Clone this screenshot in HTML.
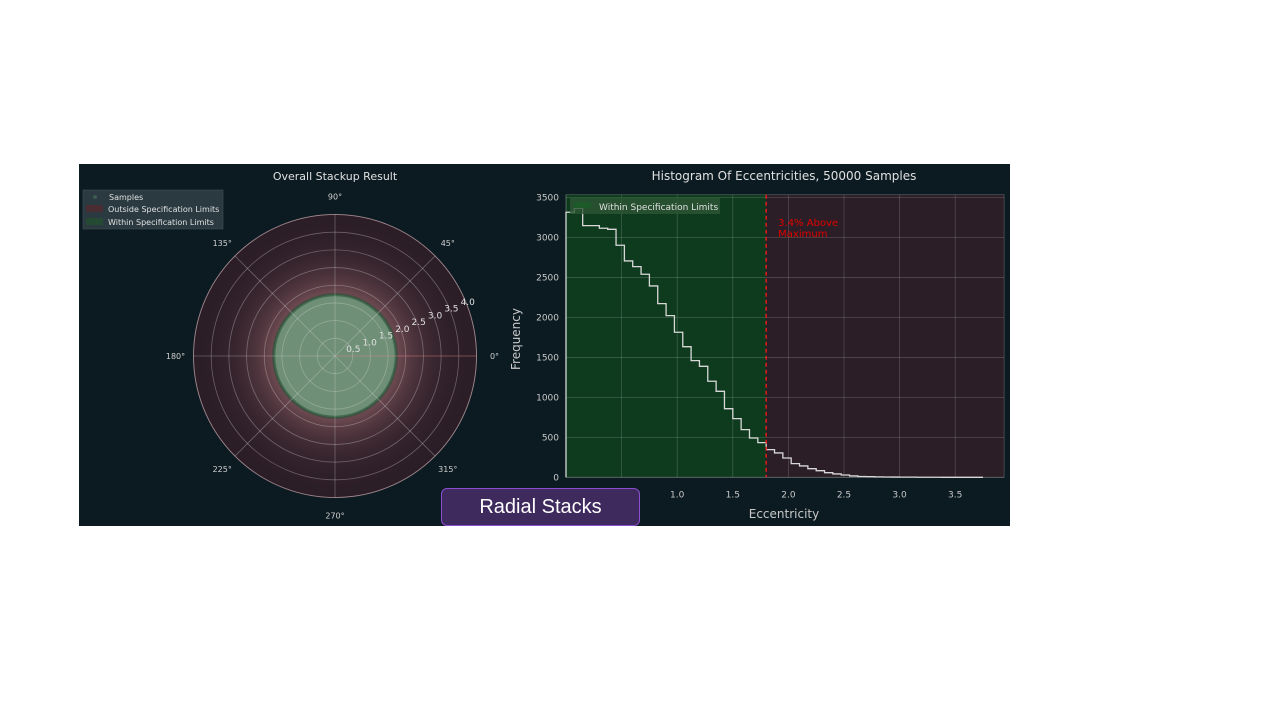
<!DOCTYPE html>
<html><head><meta charset="utf-8">
<style>
html,body{margin:0;padding:0;background:#fff;width:1280px;height:720px;overflow:hidden;font-family:"Liberation Sans","DejaVu Sans",sans-serif}
#fig{position:absolute;left:79px;top:164px;width:931px;height:362px;background:#0c1b22}
#badge{position:absolute;left:441px;top:488px;width:197px;height:36px;background:#3f2a5e;border:1px solid #8a4fd0;border-radius:6px;color:#fff;font-size:20px;line-height:36px;text-align:center}
</style></head><body>
<div id="fig">
<svg id="svg" width="931" height="362" xmlns="http://www.w3.org/2000/svg" font-family="DejaVu Sans, Liberation Sans, sans-serif"></svg>
</div>
<div id="badge">Radial Stacks</div>
<script>
// Histogram data
const binStart = 0, binWidth = 0.075;
const counts = [3317,3367,3150,3150,3117,3104,2904,2708,2637,2541,2395,2174,2023,1815,1635,1460,1389,1202,1076,859,734,597,492,434,346,305,242,171,142,108,83,58,42,29,17,10,8,5,4,3,2,2,1,1,1,0,0,0,0,0];
const xTicks = [0.0,0.5,1.0,1.5,2.0,2.5,3.0,3.5];
const yTicks = [0,500,1000,1500,2000,2500,3000,3500];
const specLimit = 1.8;
// Polar data
const rTicks = [0.5,1.0,1.5,2.0,2.5,3.0,3.5,4.0];
const angleTicks = [0,45,90,135,180,225,270,315];
const polarSpec = 1.73, polarMax = 4.0;

const svg = document.getElementById('svg');
const NS = 'http://www.w3.org/2000/svg';
function mk(tag, attrs, parent){const e=document.createElementNS(NS,tag);for(const k in attrs)e.setAttribute(k,attrs[k]);(parent||svg).appendChild(e);return e;}
function txt(s, attrs, parent){const e=mk('text',attrs,parent);e.textContent=s;return e;}

// ---------- Polar ----------
const cx=256, cy=192, R=141.5;
const rs = r => r/polarMax*R;
const pg = mk('g',{});


txt('Overall Stackup Result',{x:256,y:16,fill:'#e0e0e0','font-size':11,'text-anchor':'middle'},pg);
const outer = mk('circle',{cx,cy,r:R,fill:'#2b1d26',stroke:'#7a5a62','stroke-width':1},pg);


const defs = mk('defs',{},pg);
const rg = mk('radialGradient',{id:'cloud',cx:'50%',cy:'50%',r:'50%'},defs);
[[0,'rgba(160,110,115,0)'],[0.38,'rgba(160,110,115,0)'],[0.45,'rgba(170,115,120,0.5)'],[0.55,'rgba(150,100,108,0.35)'],[0.7,'rgba(120,80,90,0.18)'],[0.85,'rgba(100,70,80,0.05)'],[1,'rgba(100,70,80,0)']].forEach(s=>mk('stop',{offset:s[0],'stop-color':s[1]},rg));
const cloud = mk('circle',{cx,cy,r:R,fill:'url(#cloud)'},pg);


const green = mk('circle',{cx,cy,r:rs(polarSpec),fill:'#6f8f77',stroke:'#2f5a3e','stroke-width':3,'stroke-opacity':0.7},pg);


rTicks.forEach(r=>{
  const c=mk('circle',{cx,cy,r:rs(r),fill:'none',stroke:'rgba(220,220,220,0.35)','stroke-width':0.8},pg);
  
  
  const a=22.5*Math.PI/180;
  const t=txt(r.toFixed(1),{x:cx+rs(r)*Math.cos(a)+2,y:cy-rs(r)*Math.sin(a)+3,fill:'#e0e0e0','font-size':9,'text-anchor':'middle'},pg);
  
  
});
angleTicks.forEach(d=>{
  const a=d*Math.PI/180;
  const l=mk('line',{x1:cx,y1:cy,x2:cx+R*Math.cos(a),y2:cy-R*Math.sin(a),stroke:d===0?'rgba(220,130,130,0.6)':'rgba(220,220,220,0.35)','stroke-width':0.8},pg);
  
  
  const t=txt(d+'°',{x:cx+(R+18)*Math.cos(a),y:cy-(R+18)*Math.sin(a)+3,fill:'#d0d0d0','font-size':8,'text-anchor':'middle'},pg);
  
  
});
// legend
const lg = mk('g',{},pg);


mk('rect',{x:4,y:26,width:140,height:39,fill:'#2a3a40',stroke:'#3e4e54','stroke-width':0.6},lg);
mk('circle',{cx:16,cy:33,r:2,fill:'#3c5a50'},lg);
mk('rect',{x:7,y:41,width:17,height:7,fill:'#4a2c33'},lg);
mk('rect',{x:7,y:54,width:17,height:7,fill:'#244a34'},lg);
txt('Samples',{x:30,y:36,fill:'#e0e0e0','font-size':8},lg);
txt('Outside Specification Limits',{x:29,y:48,fill:'#e0e0e0','font-size':8},lg);
txt('Within Specification Limits',{x:29,y:61,fill:'#e0e0e0','font-size':8},lg);

// ---------- Histogram ----------
const X0=487, xPerU=111.2, Y0=313.3, yPerU=0.0799;
const xs = v => X0 + v*xPerU;
const ys = v => Y0 - v*yPerU;
const hg = mk('g',{});


const axL=xs(0), axR=xs(3.94), axT=ys(3537), axB=ys(0);
txt('Histogram Of Eccentricities, 50000 Samples',{x:705,y:16,fill:'#e0e0e0','font-size':12,'text-anchor':'middle'},hg);
const gr=mk('rect',{x:axL,y:axT,width:xs(specLimit)-axL,height:axB-axT,fill:'#0e3b1e'},hg);


const rr=mk('rect',{x:xs(specLimit),y:axT,width:axR-xs(specLimit),height:axB-axT,fill:'#2b1e26'},hg);


xTicks.forEach(v=>{
  const l=mk('line',{x1:xs(v),y1:axT,x2:xs(v),y2:axB,stroke:'rgba(200,200,200,0.25)','stroke-width':0.8},hg);
  
  
  const t=txt(v.toFixed(1),{x:xs(v),y:axB+20,fill:'#c8c8c8','font-size':9,'text-anchor':'middle'},hg);
  
  
});
yTicks.forEach(v=>{
  const l=mk('line',{x1:axL,y1:ys(v),x2:axR,y2:ys(v),stroke:'rgba(200,200,200,0.25)','stroke-width':0.8},hg);
  
  
  const t=txt(String(v),{x:axL-7,y:ys(v)+3,fill:'#c8c8c8','font-size':9,'text-anchor':'end'},hg);
  
  
});
mk('rect',{x:axL,y:axT,width:axR-axL,height:axB-axT,fill:'none',stroke:'rgba(200,200,200,0.3)','stroke-width':0.8},hg);
let d='M'+xs(binStart)+','+ys(0);
counts.forEach((c,i)=>{d+=' L'+xs(binStart+i*binWidth)+','+ys(c)+' L'+xs(binStart+(i+1)*binWidth)+','+ys(c);});
d+=' L'+xs(binStart+counts.length*binWidth)+','+ys(0);
const step=mk('path',{d,fill:'none',stroke:'#d8d8d8','stroke-width':1.3},hg);


const sl=mk('line',{x1:xs(specLimit),y1:axT,x2:xs(specLimit),y2:axB,stroke:'#ff1a1a','stroke-width':1.3,'stroke-dasharray':'4,3'},hg);


const an=txt('3.4% Above',{x:xs(specLimit)+12,y:62,fill:'#e00000','font-size':10},hg);


txt('Maximum',{x:xs(specLimit)+12,y:73,fill:'#e00000','font-size':10},hg);
const hl=mk('g',{},hg);


mk('rect',{x:491,y:33,width:150,height:17,fill:'#2e5636','fill-opacity':0.8},hl);
mk('rect',{x:495,y:38,width:17,height:6,fill:'#1d5a2a'},hl);
txt('Within Specification Limits',{x:520,y:46,fill:'#e0e0e0','font-size':9},hl);
const xl=txt('Eccentricity',{x:705,y:354,fill:'#c8c8c8','font-size':12,'text-anchor':'middle'},hg);


const yl=txt('Frequency',{x:0,y:0,fill:'#c8c8c8','font-size':12,'text-anchor':'middle',transform:'translate(441,175) rotate(-90)'},hg);


</script>
</body></html>
